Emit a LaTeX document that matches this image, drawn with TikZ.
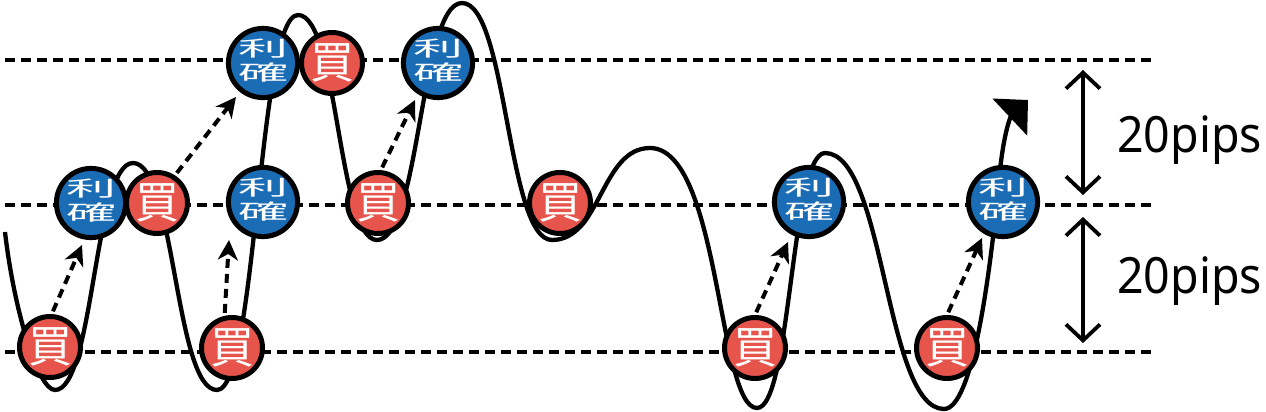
\documentclass[tikz,border=0pt]{standalone}
\usepackage{fontspec}
\usepackage{graphicx}
\usetikzlibrary{arrows.meta}
\setmainfont{Noto Sans}
\newfontfamily\cjk{Noto Sans CJK JP}
\definecolor{buyred}{HTML}{E6544B}
\definecolor{rkblue}{HTML}{1A6CB5}
\newcommand{\rkt}{\scalebox{1}[0.42]{\begin{tabular}{@{}c@{}}利\\確\end{tabular}}}
\tikzset{
  level/.style={line width=4pt, dash pattern=on 9.5pt off 6.5pt},
  price/.style={line width=4.3pt, line join=round},
  buy/.style={circle, draw=black, line width=5pt, fill=buyred, minimum size=61pt, inner sep=0pt, text=white,
    font=\cjk\fontsize{44pt}{44pt}\selectfont},
  rk/.style={circle, draw=black, line width=5pt, fill=rkblue, minimum size=61pt, inner sep=0pt, text=white,
    font=\cjk\fontsize{50pt}{50pt}\selectfont},
  jump/.style={line width=4pt, dash pattern=on 9pt off 6pt, shorten <=3pt,
    -{Stealth[length=20pt,width=20pt,inset=6pt]}},
  span/.style={line width=3.8pt, {Straight Barb[length=16pt,width=34pt]}-{Straight Barb[length=16pt,width=34pt]}},
  pips/.style={font=\fontsize{50pt}{50pt}\selectfont, inner sep=0pt}
}
\begin{document}
\begin{tikzpicture}[x=1pt,y=-1pt]
\useasboundingbox (0,0) rectangle (1266,412);
% levels
\draw[level] (5,60) -- (1157,60);
\draw[level] (5,205) -- (1157,205);
\draw[level] (5,352) -- (1157,352);
% price curve
\draw[price, -{Triangle[length=25pt,width=50pt]}] (5,232) .. controls (14,310) and (38,390) .. (55,390)
 .. controls (94,390) and (94,163) .. (133,163)
 .. controls (175,163) and (175,390) .. (217,390)
 .. controls (257,390) and (258,15) .. (298,15)
 .. controls (338,15) and (338,240) .. (377,240)
 .. controls (420,240) and (420,3) .. (462,3)
 .. controls (507,3) and (507,240) .. (552,240)
 .. controls (601,240) and (601,148) .. (650,148)
 .. controls (720,148) and (718,408) .. (757,408)
 .. controls (791,408) and (791,153) .. (825,153)
 .. controls (885,153) and (885,409) .. (944,409)
 .. controls (972,409) and (990,280) .. (1000,170)
 .. controls (1005,125) and (1012,115) .. (1028,100);
% circles
\node[buy] (b1) at (50,347) {買};
\node[rk]  (r1) at (91,203) {\rkt};
\node[buy] (b2) at (157,203) {買};
\node[rk]  (r2) at (263,63) {\rkt};
\node[buy] (b3) at (332,63) {買};
\node[rk]  (r3) at (263,202) {\rkt};
\node[buy] (b4) at (232,348) {買};
\node[buy] (b5) at (378,203) {買};
\node[rk]  (r4) at (438,63) {\rkt};
\node[buy] (b6) at (560,203) {買};
\node[buy] (b7) at (755,348) {買};
\node[rk]  (r5) at (809,202) {\rkt};
\node[buy] (b8) at (947,348) {買};
\node[rk]  (r6) at (1003,202) {\rkt};
% dotted jump arrows
\coordinate (t1) at (82,245);
\coordinate (t2) at (236,97);
\coordinate (t3) at (229,240);
\coordinate (t4) at (415,100);
\coordinate (t5) at (788,242);
\coordinate (t6) at (982,238);
\draw[jump] (b1.87) -- (t1);
\draw[jump] (b2.57) -- (t2);
\draw[jump] (b4.103) -- (t3);
\draw[jump] (b5.85) -- (t4);
\draw[jump] (b7.90) -- (t5);
\draw[jump] (b8.90) -- (t6);
% spans
\coordinate (u1) at (1083,70);
\coordinate (u2) at (1083,195);
\coordinate (l1) at (1083,217);
\coordinate (l2) at (1083,343);
\draw[span] (u1) -- (u2);
\draw[span] (l1) -- (l2);
\node[pips, anchor=base west] (p1) at (1117,152) {\scalebox{0.93}[1]{20pips}};
\node[pips, anchor=base west] (p2) at (1117,293) {\scalebox{0.93}[1]{20pips}};
\end{tikzpicture}
\end{document}
